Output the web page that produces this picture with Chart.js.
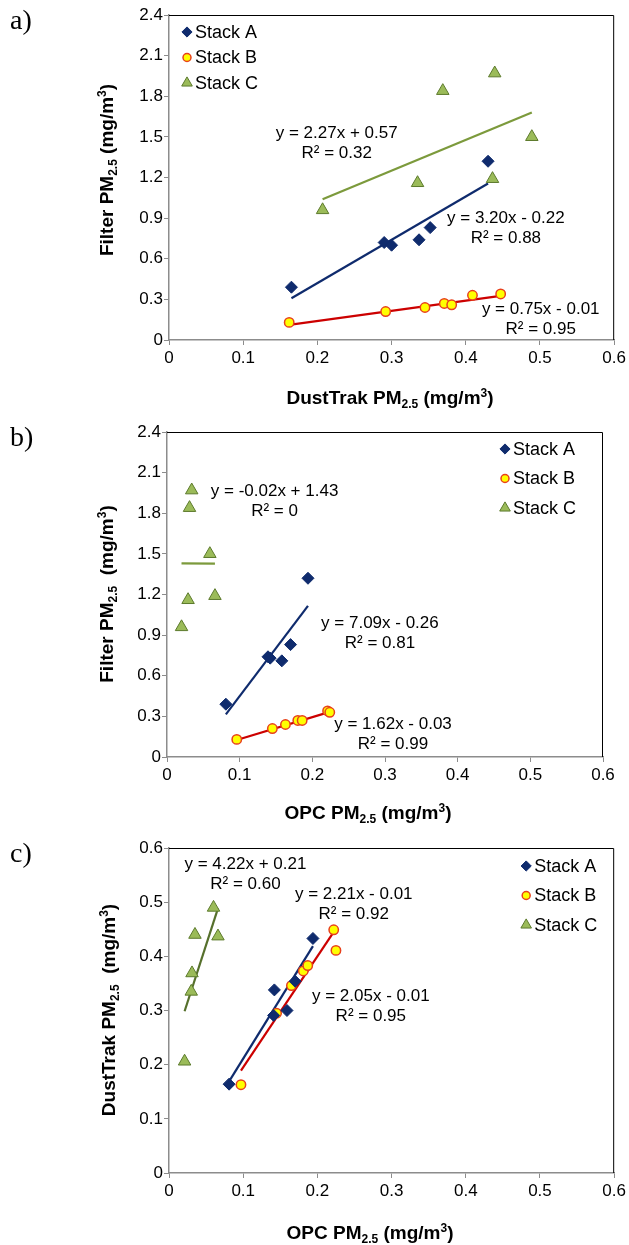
<!DOCTYPE html>
<html>
<head>
<meta charset="utf-8">
<script src="https://cdn.jsdelivr.net/npm/chart.js@4.4.0/dist/chart.umd.min.js"></script>
<style>
  html, body { margin: 0; padding: 0; background: #fff; }
  body { width: 629px; height: 1245px; position: relative; overflow: hidden; }
  .panel { position: absolute; left: 0; width: 629px; }
</style>
</head>
<body>
<div class="panel" style="top:0;height:415px"><canvas id="chartA"></canvas></div>
<div class="panel" style="top:415px;height:420px"><canvas id="chartB"></canvas></div>
<div class="panel" style="top:835px;height:410px"><canvas id="chartC"></canvas></div>
<script>
// tick labels
var xTicks = [0, 0.1, 0.2, 0.3, 0.4, 0.5, 0.6];
var yTicksFilter = [0, 0.3, 0.6, 0.9, 1.2, 1.5, 1.8, 2.1, 2.4];
var yTicksDust = [0, 0.1, 0.2, 0.3, 0.4, 0.5, 0.6];
var stackNames = ['Stack A', 'Stack B', 'Stack C'];

// a) DustTrak (x) vs Filter (y)
var aStackAx = [0.165, 0.290, 0.300, 0.337, 0.352, 0.430];
var aStackAy = [0.39, 0.72, 0.70, 0.74, 0.83, 1.32];
var aStackBx = [0.162, 0.292, 0.345, 0.371, 0.381, 0.409, 0.447];
var aStackBy = [0.13, 0.21, 0.24, 0.27, 0.26, 0.33, 0.34];
var aStackCx = [0.207, 0.335, 0.369, 0.439, 0.436, 0.489];
var aStackCy = [0.96, 1.16, 1.84, 1.97, 1.19, 1.50];
var aFits = [[3.20, -0.22], [0.75, -0.01], [2.27, 0.57]];
var aR2 = ['0.88', '0.95', '0.32'];

// b) OPC (x) vs Filter (y)
var bStackAx = [0.081, 0.139, 0.142, 0.158, 0.170, 0.194];
var bStackAy = [0.39, 0.74, 0.73, 0.71, 0.83, 1.32];
var bStackBx = [0.096, 0.145, 0.163, 0.180, 0.186, 0.221, 0.224];
var bStackBy = [0.13, 0.21, 0.24, 0.27, 0.27, 0.34, 0.33];
var bStackCx = [0.020, 0.029, 0.066, 0.059, 0.031, 0.034];
var bStackCy = [0.96, 1.16, 1.19, 1.50, 1.84, 1.97];
var bFits = [[7.09, -0.26], [1.62, -0.03], [-0.02, 1.43]];
var bR2 = ['0.81', '0.99', '0'];

// c) OPC (x) vs DustTrak (y)
var cStackAx = [0.081, 0.141, 0.142, 0.159, 0.170, 0.194];
var cStackAy = [0.164, 0.291, 0.338, 0.300, 0.354, 0.433];
var cStackBx = [0.097, 0.145, 0.165, 0.181, 0.187, 0.222, 0.225];
var cStackBy = [0.163, 0.295, 0.346, 0.373, 0.383, 0.449, 0.411];
var cStackCx = [0.021, 0.030, 0.031, 0.035, 0.066, 0.060];
var cStackCy = [0.206, 0.335, 0.369, 0.440, 0.437, 0.490];
var cFits = [[2.21, -0.01], [2.05, -0.01], [4.22, 0.21]];
var cR2 = ['0.92', '0.95', '0.60'];

var FONT = 'Arial, "Liberation Sans", sans-serif';

// marker look for each stack
var markers = [
    { pointStyle: 'rectRot', radius: 6, bg: '#0f2b6d', border: '#0f2b6d', bw: 1 },
    { pointStyle: 'circle', radius: 4.7, bg: '#ffff00', border: '#e8401c', bw: 1.5 },
    { pointStyle: 'triangle', radius: 7.2, bg: '#9bbb59', border: '#5c7a2c', bw: 1 }
];

function toPoints(xs, ys) {
    var pts = [];
    for (var i = 0; i < xs.length; i++) pts.push({ x: xs[i], y: ys[i] });
    return pts;
}

// trend line between the smallest and largest x of the series
function fitLine(xs, fit) {
    var lo = Math.min.apply(null, xs), hi = Math.max.apply(null, xs);
    return [{ x: lo, y: fit[0] * lo + fit[1] }, { x: hi, y: fit[0] * hi + fit[1] }];
}

function eqText(fit) {
    var b = fit[1];
    return 'y = ' + fit[0].toFixed(2) + 'x ' + (b < 0 ? '- ' : '+ ') + Math.abs(b).toFixed(2);
}

// text with sub / superscripts: parts = [[text, 0 normal | 1 sub | 2 sup], ...]
function drawRich(ctx, parts, cx, cy, size, bold, rotate) {
    var w = 0, i;
    var fontOf = function (k) {
        return (bold ? 'bold ' : '') + (k ? Math.round(size * 0.65) : size) + 'px ' + FONT;
    };
    for (i = 0; i < parts.length; i++) {
        ctx.font = fontOf(parts[i][1]);
        w += ctx.measureText(parts[i][0]).width;
    }
    ctx.save();
    ctx.translate(cx, cy);
    if (rotate) ctx.rotate(-Math.PI / 2);
    ctx.fillStyle = '#000';
    ctx.textBaseline = 'alphabetic';
    ctx.textAlign = 'left';
    var x = -w / 2, base = size * 0.36;
    for (i = 0; i < parts.length; i++) {
        var k = parts[i][1];
        ctx.font = fontOf(k);
        var dy = k === 1 ? size * 0.22 : (k === 2 ? -size * 0.38 : 0);
        ctx.fillText(parts[i][0], x, base + dy);
        x += ctx.measureText(parts[i][0]).width;
    }
    ctx.restore();
}

var decorPlugin = {
    id: 'decor',
    beforeDatasetsDraw: function (chart) {
        // black top and right border of the plot area
        var a = chart.chartArea, ctx = chart.ctx;
        ctx.save();
        ctx.strokeStyle = '#000';
        ctx.lineWidth = 1;
        ctx.beginPath();
        ctx.moveTo(a.left, a.top + 0.5);
        ctx.lineTo(a.right - 0.5, a.top + 0.5);
        ctx.lineTo(a.right - 0.5, a.bottom);
        ctx.stroke();
        ctx.restore();
    },
    afterDraw: function (chart) {
        var o = chart.options.plugins.decor;
        var ctx = chart.ctx, a = chart.chartArea;
        var xs = chart.scales.x, ys = chart.scales.y;
        ctx.save();

        // legend
        var lx = o.legendFromRight ? a.right - o.legend[0] : a.left + o.legend[0];
        for (var i = 0; i < 3; i++) {
            var m = markers[i];
            var ly = a.top + o.legend[1] + i * o.legend[2];
            ctx.fillStyle = m.bg;
            ctx.strokeStyle = m.border;
            ctx.lineWidth = m.bw;
            Chart.helpers.drawPoint(ctx, { pointStyle: m.pointStyle, radius: m.radius * 0.85, rotation: 0, borderWidth: m.bw }, lx, ly);
            ctx.fillStyle = '#000';
            ctx.font = '18px ' + FONT;
            ctx.textAlign = 'left';
            ctx.textBaseline = 'middle';
            ctx.fillText(stackNames[i], lx + 8, ly + 1);
        }

        // trend line equations
        ctx.font = '17px ' + FONT;
        ctx.textAlign = 'center';
        ctx.textBaseline = 'middle';
        ctx.fillStyle = '#000';
        for (var j = 0; j < 3; j++) {
            var px = xs.getPixelForValue(o.labelPos[j][0]);
            var py = ys.getPixelForValue(o.labelPos[j][1]);
            ctx.fillText(eqText(o.fits[j]), px, py);
            ctx.fillText('R\u00b2 = ' + o.r2[j], px, py + 20);
        }

        // panel letter
        ctx.font = '28px "Liberation Serif", "Times New Roman", serif';
        ctx.textAlign = 'left';
        ctx.fillText(o.letter, 10, o.letterY);
        ctx.restore();

        // axis titles
        drawRich(ctx, o.xTitle, o.xTitlePos[0], o.xTitlePos[1], 19, true, false);
        drawRich(ctx, o.yTitle, o.yTitlePos[0], o.yTitlePos[1], 19, true, true);
    }
};

function makeChart(id, p) {
    var series = [[p.ax, p.ay], [p.bx, p.by], [p.cx, p.cy]];
    var fitColors = ['#0f2b6d', '#cc0000', p.cLineColor];
    var datasets = [];
    series.forEach(function (s, i) {
        var m = markers[i];
        datasets.push({
            label: stackNames[i],
            type: 'scatter',
            data: toPoints(s[0], s[1]),
            pointStyle: m.pointStyle,
            pointRadius: m.radius,
            backgroundColor: m.bg,
            borderColor: m.border,
            borderWidth: m.bw
        });
    });
    series.forEach(function (s, i) {
        datasets.push({
            label: stackNames[i] + ' trend',
            type: 'line',
            data: fitLine(s[0], p.fits[i]),
            borderColor: fitColors[i],
            borderWidth: 2.2,
            pointRadius: 0,
            fill: false
        });
    });

    var axisGrid = { drawOnChartArea: false, drawTicks: true, tickLength: 5, color: '#8c8c8c', lineWidth: 1 };
    var fmt = function (v) { return String(Math.round(v * 10) / 10); };

    return new Chart(document.getElementById(id), {
        type: 'scatter',
        data: { datasets: datasets },
        plugins: [decorPlugin],
        options: {
            responsive: true,
            maintainAspectRatio: false,
            animation: false,
            layout: { padding: { top: p.box.top, right: 629 - p.box.right, left: 0, bottom: 0 } },
            plugins: {
                legend: { display: false },
                tooltip: { enabled: false },
                decor: p
            },
            scales: {
                x: {
                    type: 'linear', min: 0, max: 0.6,
                    afterBuildTicks: function (s) { s.ticks = xTicks.map(function (v) { return { value: v }; }); },
                    afterFit: function (s) { s.height = p.box.h - p.box.bottom; },
                    ticks: { callback: fmt, color: '#000', font: { family: FONT, size: 17 }, padding: 3, maxRotation: 0, autoSkip: false },
                    grid: axisGrid,
                    border: { color: '#8c8c8c', width: 1.5 }
                },
                y: {
                    type: 'linear', min: 0, max: p.yTicks[p.yTicks.length - 1],
                    afterBuildTicks: function (s) { s.ticks = p.yTicks.map(function (v) { return { value: v }; }); },
                    afterFit: function (s) { s.width = p.box.left; },
                    ticks: { callback: fmt, color: '#000', font: { family: FONT, size: 17 }, padding: 1, autoSkip: false },
                    grid: axisGrid,
                    border: { color: '#8c8c8c', width: 1.5 }
                }
            }
        }
    });
}

var pmFilter = [['Filter PM', 0], ['2.5', 1], [' (mg/m', 0], ['3', 2], [')', 0]];
var pmFilter2 = [['Filter PM', 0], ['2.5', 1], ['  (mg/m', 0], ['3', 2], [')', 0]];
var pmDust = [['DustTrak PM', 0], ['2.5', 1], [' (mg/m', 0], ['3', 2], [')', 0]];
var pmDust2 = [['DustTrak PM', 0], ['2.5', 1], ['  (mg/m', 0], ['3', 2], [')', 0]];
var pmOpc = [['OPC PM', 0], ['2.5', 1], [' (mg/m', 0], ['3', 2], [')', 0]];

makeChart('chartA', {
    ax: aStackAx, ay: aStackAy, bx: aStackBx, by: aStackBy, cx: aStackCx, cy: aStackCy,
    fits: aFits, r2: aR2, cLineColor: '#7c9a3c',
    labelPos: [[0.454, 0.90], [0.501, 0.23], [0.226, 1.53]],
    yTicks: yTicksFilter,
    box: { left: 169, right: 617, top: 15, bottom: 340, h: 415 },
    legend: [18, 17, 25.5], legendFromRight: false,
    letter: 'a)', letterY: 22,
    xTitle: pmDust, xTitlePos: [390, 397],
    yTitle: pmFilter, yTitlePos: [106, 170]
});

makeChart('chartB', {
    ax: bStackAx, ay: bStackAy, bx: bStackBx, by: bStackBy, cx: bStackCx, cy: bStackCy,
    fits: bFits, r2: bR2, cLineColor: '#7c9a3c',
    labelPos: [[0.293, 0.987], [0.311, 0.241], [0.148, 1.965]],
    yTicks: yTicksFilter,
    box: { left: 167, right: 603, top: 17, bottom: 342, h: 420 },
    legend: [98, 17, 29.5], legendFromRight: true,
    letter: 'b)', letterY: 24,
    xTitle: pmOpc, xTitlePos: [368, 397],
    yTitle: pmFilter2, yTitlePos: [106, 179]
});

makeChart('chartC', {
    ax: cStackAx, ay: cStackAy, bx: cStackBx, by: cStackBy, cx: cStackCx, cy: cStackCy,
    fits: cFits, r2: cR2, cLineColor: '#56702c',
    labelPos: [[0.249, 0.514], [0.272, 0.326], [0.103, 0.569]],
    yTicks: yTicksDust,
    box: { left: 169, right: 617, top: 13, bottom: 338, h: 410 },
    legend: [88, 18, 29.5], legendFromRight: true,
    letter: 'c)', letterY: 20,
    xTitle: pmOpc, xTitlePos: [370, 397],
    yTitle: pmDust2, yTitlePos: [108, 175]
});
</script>
</body>
</html>
